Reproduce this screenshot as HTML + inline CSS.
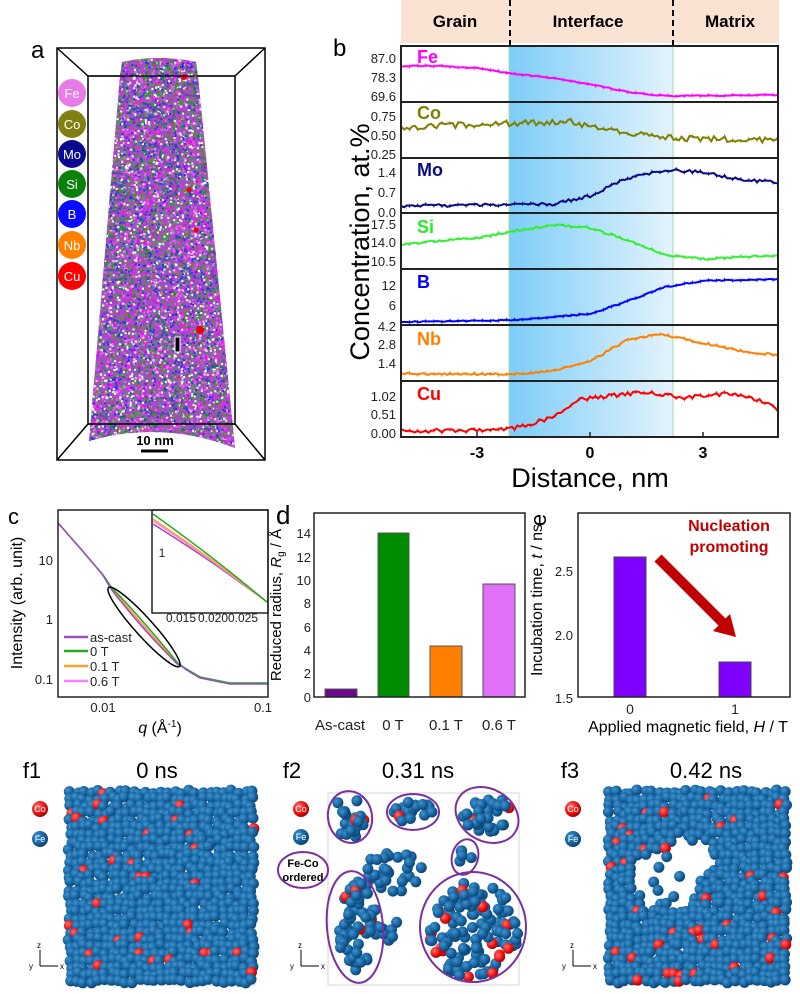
<!DOCTYPE html>
<html><head><meta charset="utf-8"><style>
html,body{margin:0;padding:0;background:#fff;}
svg{display:block;font-family:"Liberation Sans",Arial,sans-serif;}
</style></head><body>
<svg id="s" width="800" height="994" viewBox="0 0 800 994" xmlns="http://www.w3.org/2000/svg">
<defs>
<linearGradient id="ifg" x1="0" x2="1" y1="0" y2="0">
<stop offset="0" stop-color="#7dcdf7"/><stop offset="1" stop-color="#e3f3fd"/></linearGradient>
<radialGradient id="gb" cx="0.35" cy="0.35" r="0.7"><stop offset="0" stop-color="#3f94cf"/><stop offset="0.6" stop-color="#16629e"/><stop offset="1" stop-color="#0b406c"/></radialGradient>
<radialGradient id="gr" cx="0.35" cy="0.35" r="0.7"><stop offset="0" stop-color="#ff7070"/><stop offset="0.6" stop-color="#ee1111"/><stop offset="1" stop-color="#a00000"/></radialGradient>
<clipPath id="spec"><path d="M122,62 Q159,54 196,62 L198,76 L235,448 Q162,420 89,441 L120,76 Z"/></clipPath>
</defs>

<!-- Panel a -->
<text x="31" y="58" font-size="24">a</text>
<g fill="none" stroke="#000" stroke-width="1.5">
<rect x="57" y="48" width="208" height="412"/>
<rect x="88" y="76" width="147" height="348"/>
<line x1="57" y1="48" x2="88" y2="76"/><line x1="265" y1="48" x2="235" y2="76"/>
<line x1="57" y1="460" x2="88" y2="424"/><line x1="265" y1="460" x2="235" y2="424"/>
</g>
<path d="M122,62 Q159,54 196,62 L198,76 L235,448 Q162,420 89,441 L120,76 Z" fill="#a050c0"/>
<g id="adots" clip-path="url(#spec)"></g>
<line x1="88" y1="424" x2="235" y2="424" stroke="#000" stroke-width="1.5"/>
<line x1="88" y1="76" x2="235" y2="76" stroke="#000" stroke-width="1.2"/>
<rect x="175" y="337" width="5" height="15" fill="#000" stroke="#fff" stroke-width="1"/>
<text x="155" y="445" font-size="13" font-weight="bold" text-anchor="middle">10 nm</text>
<line x1="141" y1="451" x2="168" y2="451" stroke="#000" stroke-width="3"/>
<g font-size="13" fill="#fff" text-anchor="middle">
<circle cx="72" cy="93" r="14" fill="#e77be8"/><text x="72" y="98">Fe</text>
<circle cx="72" cy="124" r="14" fill="#808012"/><text x="72" y="129">Co</text>
<circle cx="72" cy="154" r="14" fill="#0a0a90"/><text x="72" y="159">Mo</text>
<circle cx="72" cy="184" r="14" fill="#0a820a"/><text x="72" y="189">Si</text>
<circle cx="72" cy="214" r="14" fill="#0a0aff"/><text x="72" y="219">B</text>
<circle cx="72" cy="245" r="14" fill="#ff8000"/><text x="72" y="250">Nb</text>
<circle cx="72" cy="276" r="14" fill="#ff0000"/><text x="72" y="281">Cu</text>
</g>

<!-- Panel b -->
<text x="333" y="56" font-size="24">b</text>
<rect x="401" y="0" width="378" height="43" fill="#fbe3d4"/>
<line x1="510" y1="0" x2="510" y2="46" stroke="#000" stroke-width="2" stroke-dasharray="6,4"/>
<line x1="673" y1="0" x2="673" y2="46" stroke="#000" stroke-width="2" stroke-dasharray="6,4"/>
<g font-size="17" font-weight="bold" text-anchor="middle">
<text x="455" y="27">Grain</text><text x="588" y="27">Interface</text><text x="730" y="27">Matrix</text></g>
<rect x="509" y="46" width="164" height="391" fill="url(#ifg)"/>
<line x1="509" y1="46" x2="509" y2="437" stroke="#a8d8a0" stroke-width="1"/>
<line x1="673" y1="46" x2="673" y2="437" stroke="#a8d8a0" stroke-width="1"/>
<g id="bcurves"></g>
<g stroke="#222" stroke-width="2" fill="none">
<rect x="401" y="46" width="377" height="391"/>
<line x1="401" y1="102" x2="778" y2="102"/><line x1="401" y1="158" x2="778" y2="158"/>
<line x1="401" y1="213" x2="778" y2="213"/><line x1="401" y1="269" x2="778" y2="269"/>
<line x1="401" y1="325" x2="778" y2="325"/><line x1="401" y1="381" x2="778" y2="381"/>
</g>
<g stroke="#222" stroke-width="1.5">
<line x1="477" y1="437" x2="477" y2="432"/><line x1="590" y1="437" x2="590" y2="432"/><line x1="703" y1="437" x2="703" y2="432"/>
</g>
<g font-size="13" text-anchor="end" fill="#222">
<text x="396" y="63">87.0</text><text x="396" y="82">78.3</text><text x="396" y="101">69.6</text>
<text x="396" y="121">0.75</text><text x="396" y="140">0.50</text><text x="396" y="159">0.25</text>
<text x="396" y="177">1.4</text><text x="396" y="197">0.7</text><text x="396" y="217">0.0</text>
<text x="396" y="229">17.5</text><text x="396" y="247">14.0</text><text x="396" y="266">10.5</text>
<text x="396" y="290">12</text><text x="396" y="310">6</text><text x="396" y="331">4.2</text>
<text x="396" y="349">2.8</text><text x="396" y="368">1.4</text>
<text x="396" y="401">1.02</text><text x="396" y="419">0.51</text><text x="396" y="438">0.00</text>
</g>
<g font-size="18" font-weight="bold">
<text x="417" y="63" fill="#ff00ff">Fe</text><text x="417" y="119" fill="#808000">Co</text>
<text x="417" y="176" fill="#0a0a80">Mo</text><text x="417" y="233" fill="#22ee22">Si</text>
<text x="417" y="288" fill="#0000ff">B</text><text x="417" y="345" fill="#ff8000">Nb</text>
<text x="417" y="400" fill="#ff0000">Cu</text></g>
<g font-size="16" font-weight="bold" text-anchor="middle">
<text x="477" y="458">-3</text><text x="590" y="458">0</text><text x="703" y="458">3</text></g>
<text x="590" y="487" font-size="27" text-anchor="middle">Distance, nm</text>
<text transform="translate(369,242) rotate(-90)" font-size="27" text-anchor="middle">Concentration, at.%</text>

<!-- Panel c -->
<text x="8" y="524" font-size="22">c</text>
<g id="ccurves"></g>
<rect x="58" y="510" width="210" height="187" fill="none" stroke="#222" stroke-width="1.5"/>
<rect x="152" y="510" width="116" height="103" fill="none" stroke="#222" stroke-width="1.5"/>
<ellipse cx="144" cy="627" rx="53" ry="9" transform="rotate(48 144 627)" fill="none" stroke="#000" stroke-width="1.5"/>
<g font-size="13" text-anchor="end" fill="#222"><text x="53" y="565">10</text><text x="53" y="624">1</text><text x="53" y="684">0.1</text></g>
<g font-size="12" text-anchor="middle" fill="#222"><text x="162" y="557">1</text><text x="181" y="622">0.015</text><text x="213" y="622">0.020</text><text x="243" y="622">0.025</text></g>
<g font-size="13" text-anchor="middle" fill="#222"><text x="103" y="712">0.01</text><text x="263" y="712">0.1</text></g>
<text x="160" y="733" font-size="16" text-anchor="middle"><tspan font-style="italic">q</tspan> (Å<tspan font-size="10" dy="-6">-1</tspan><tspan dy="6">)</tspan></text>
<text transform="translate(22,603) rotate(-90)" font-size="16" text-anchor="middle">Intensity (arb. unit)</text>
<g stroke-width="2.5"><line x1="64" y1="637" x2="88" y2="637" stroke="#9a4fc0"/><line x1="64" y1="651" x2="88" y2="651" stroke="#22aa22"/><line x1="64" y1="666" x2="88" y2="666" stroke="#ffa030"/><line x1="64" y1="681" x2="88" y2="681" stroke="#ff80ff"/></g>
<g font-size="13" fill="#222"><text x="90" y="642">as-cast</text><text x="90" y="656">0 T</text><text x="90" y="671">0.1 T</text><text x="90" y="686">0.6 T</text></g>

<!-- Panel d -->
<text x="276" y="524" font-size="26">d</text>
<rect x="325" y="689" width="32" height="8" fill="#6a0a8a" stroke="#555"/>
<rect x="378" y="533" width="31" height="164" fill="#008c00" stroke="#555"/>
<rect x="430" y="646" width="32" height="51" fill="#ff8000" stroke="#555"/>
<rect x="483" y="584" width="32" height="113" fill="#e070f8" stroke="#555"/>
<rect x="314" y="513" width="211" height="184" fill="none" stroke="#222" stroke-width="1.5"/>
<g font-size="13" text-anchor="end" fill="#222"><text x="311" y="538">14</text><text x="311" y="562">12</text><text x="311" y="585">10</text><text x="311" y="608">8</text><text x="311" y="632">6</text><text x="311" y="655">4</text><text x="311" y="678">2</text><text x="311" y="702">0</text></g>
<g font-size="15" text-anchor="middle" fill="#222"><text x="340" y="730">As-cast</text><text x="393" y="730">0 T</text><text x="446" y="730">0.1 T</text><text x="499" y="730">0.6 T</text></g>
<text transform="translate(281,605) rotate(-90)" font-size="15" text-anchor="middle">Reduced radius, <tspan font-style="italic">R</tspan><tspan font-size="10" dy="3">g</tspan><tspan dy="-3"> / Å</tspan></text>

<!-- Panel e -->
<rect x="614" y="557" width="32" height="140" fill="#7f00ff" stroke="#444"/>
<rect x="719" y="662" width="32" height="35" fill="#7f00ff" stroke="#444"/>
<rect x="578" y="513" width="212" height="184" fill="none" stroke="#222" stroke-width="1.5"/>
<g font-size="13" text-anchor="end" fill="#222"><text x="573" y="576">2.5</text><text x="573" y="640">2.0</text><text x="573" y="703">1.5</text></g>
<g font-size="14" text-anchor="middle" fill="#222"><text x="630" y="714">0</text><text x="735" y="714">1</text></g>
<text x="688" y="732" font-size="16" text-anchor="middle">Applied magnetic field, <tspan font-style="italic">H</tspan> / T</text>
<text transform="translate(542,600) rotate(-90)" font-size="16" text-anchor="middle">Incubation time, <tspan font-style="italic">t</tspan> / ns</text>
<text transform="translate(546,520) rotate(-90)" font-size="22" text-anchor="middle">e</text>
<g font-size="16" font-weight="bold" fill="#c00000" text-anchor="middle"><text x="729" y="531">Nucleation</text><text x="729" y="552">promoting</text></g>
<line x1="658" y1="558" x2="724" y2="624" stroke="#c00000" stroke-width="10"/>
<polygon points="736,637 713,631 730,614" fill="#c00000"/>

<!-- Panel f -->
<g id="fatoms"></g>
<g font-size="22" text-anchor="middle"><text x="32" y="778">f1</text><text x="157" y="778">0 ns</text>
<text x="292" y="778">f2</text><text x="418" y="778">0.31 ns</text>
<text x="570" y="778">f3</text><text x="706" y="778">0.42 ns</text></g>
<g font-size="9" fill="#fff" text-anchor="middle">
<circle cx="40" cy="809" r="8" fill="url(#gr)"/><text x="40" y="812">Co</text>
<circle cx="40" cy="839" r="8" fill="url(#gb)"/><text x="40" y="842">Fe</text>
<circle cx="301" cy="809" r="8" fill="url(#gr)"/><text x="301" y="812">Co</text>
<circle cx="301" cy="837" r="8" fill="url(#gb)"/><text x="301" y="840">Fe</text>
<circle cx="573" cy="809" r="8" fill="url(#gr)"/><text x="573" y="812">Co</text>
<circle cx="573" cy="839" r="8" fill="url(#gb)"/><text x="573" y="842">Fe</text>
</g>
<g fill="none" stroke="#7b2fa0" stroke-width="2">
<ellipse cx="350" cy="817" rx="22" ry="26" transform="rotate(-10 350 817)"/>
<ellipse cx="413" cy="812" rx="26" ry="18"/>
<ellipse cx="487" cy="815" rx="33" ry="26" transform="rotate(30 487 815)"/>
<ellipse cx="465" cy="857" rx="13" ry="18" transform="rotate(15 465 857)"/>
<ellipse cx="355" cy="927" rx="28" ry="56" transform="rotate(-5 355 927)"/>
<ellipse cx="473" cy="927" rx="53" ry="55"/>
<ellipse cx="303" cy="870" rx="25" ry="18"/>
</g>
<g font-size="11" font-weight="bold" text-anchor="middle"><text x="303" y="867">Fe-Co</text><text x="303" y="881">ordered</text></g>
<g stroke="#000" stroke-width="1">
<line x1="40" y1="966" x2="40" y2="950"/><line x1="40" y1="966" x2="58" y2="966"/>
<line x1="301" y1="966" x2="301" y2="950"/><line x1="301" y1="966" x2="319" y2="966"/>
<line x1="573" y1="966" x2="573" y2="950"/><line x1="573" y1="966" x2="591" y2="966"/>
</g>
<g font-size="8"><text x="37" y="948">z</text><text x="29" y="969">y</text><text x="60" y="969">x</text>
<text x="298" y="948">z</text><text x="290" y="969">y</text><text x="321" y="969">x</text>
<text x="570" y="948">z</text><text x="562" y="969">y</text><text x="593" y="969">x</text></g>
</svg>
<script>
(function(){
var seed=12345;function R(){seed=(seed*1103515245+12345)%2147483648;return seed/2147483648;}
var ad=document.getElementById('adots');
var cols=['#ff22ff','#ff55ff','#ff00ff','#22aa22','#119911','#2233ee','#ffffff','#ffffff','#808020','#e070f0','#1848c8','#40b040'];
var h='';
for(var i=0;i<11000;i++){var x=88+R()*148,y=55+R()*395;var c=cols[Math.floor(R()*cols.length)];h+='<rect x="'+x.toFixed(1)+'" y="'+y.toFixed(1)+'" width="2" height="2" fill="'+c+'"/>';}
for(var j=0;j<22;j++){var cx=95+R()*135,cy=80+R()*350;h+='<ellipse cx="'+cx.toFixed(0)+'" cy="'+cy.toFixed(0)+'" rx="'+(6+R()*10).toFixed(0)+'" ry="'+(4+R()*8).toFixed(0)+'" fill="none" stroke="#3050a0" stroke-opacity="0.6" stroke-width="2"/>';}
h+='<circle cx="200" cy="330" r="4" fill="#ee0000"/><circle cx="184" cy="77" r="3" fill="#ee0000"/><circle cx="189" cy="190" r="2.5" fill="#ee0000"/><circle cx="196" cy="230" r="2.5" fill="#ee0000"/>';
ad.innerHTML=h;
function interp(pts,x){for(var i=0;i<pts.length-1;i++){if(x<=pts[i+1][0]){var t=(x-pts[i][0])/(pts[i+1][0]-pts[i][0]);return pts[i][1]+t*(pts[i+1][1]-pts[i][1]);}}return pts[pts.length-1][1];}
var S=[
['#ff00ff',0.5,[[-5,66],[-4,66],[-3,68],[-2.2,73],[-1,78],[0,84],[1,92],[2,96],[5,95]]],
['#808000',3,[[-5,127],[-2,123],[-0.5,122],[0,126],[1,133],[2,138],[5,140]]],
['#0a0a80',1.5,[[-5,206],[-1,204],[0,196],[1,178],[2,170],[3,172],[4,180],[5,182]]],
['#33ee33',1,[[-5,244],[-3,238],[-2,231],[-1,225],[0,228],[1,240],[2,255],[3,259],[5,255]]],
['#0000ff',0.6,[[-5,322],[-2,320],[0,314],[1,301],[2,287],[3,281],[5,279]]],
['#ff8000',1,[[-5,374],[-2,374],[-1,371],[0,361],[1,340],[1.8,334],[3,343],[4,351],[5,355]]],
['#ff0000',2,[[-5,431],[-2.2,430],[-1,418],[-0.3,399],[1,394],[1.6,392],[2.5,398],[3.8,393],[4.5,400],[5,410]]]];
var bh='';
S.forEach(function(s){var p=[];for(var k=0;k<=140;k++){var nm=-5+10*k/140;var y=interp(s[2],nm)+(R()-0.5)*2*s[1];var x=590+37.7*nm;if(x>778)x=778;if(x<401)x=401;p.push(x.toFixed(1)+','+y.toFixed(1));if(k%3==0)bh+='<line x1="'+x.toFixed(1)+'" y1="'+(y-2).toFixed(1)+'" x2="'+x.toFixed(1)+'" y2="'+(y+2).toFixed(1)+'" stroke="'+s[0]+'" stroke-width="0.8"/>';}
bh+='<polyline points="'+p.join(' ')+'" fill="none" stroke="'+s[0]+'" stroke-width="2"/>';});
document.getElementById('bcurves').innerHTML=bh;
var main=[[58,523],[80,548],[103,575],[111,588],[145,627],[178,664],[200,677],[230,683],[268,683]];
var cc='';var cs=[['#ff80ff',1,0],['#ffa030',0,1],['#22aa22',-3,0],['#9a4fc0',3,2]];
cs.forEach(function(c){var p=[];for(var x=58;x<=268;x+=2){var y=interp(main,x);var o=0;if(x>100&&x<185){o=c[1]*Math.sin((x-100)/85*Math.PI);}if(x>185)o=c[2]*0.5;p.push(x+','+(y+o).toFixed(1));}cc+='<polyline points="'+p.join(' ')+'" fill="none" stroke="'+c[0]+'" stroke-width="1.5"/>';});
var ins=[['#9a4fc0',10],['#ff80ff',7],['#ffa030',5],['#22aa22',0]];
ins.forEach(function(c){var p=[];for(var x=153;x<=267;x+=2){var t=(x-153)/114;var y=514+c[1]*(1-t)+88*t-1.8*Math.sin(t*Math.PI);p.push(x+','+y.toFixed(1));}cc+='<polyline points="'+p.join(' ')+'" fill="none" stroke="'+c[0]+'" stroke-width="1.5"/>';});
document.getElementById('ccurves').innerHTML=cc;
var fh='';
function atom(x,y,red){fh+='<circle cx="'+x.toFixed(1)+'" cy="'+y.toFixed(1)+'" r="5.5" fill="url(#'+(red?'gr':'gb')+')"/>';}
function box(x0,y0,x1,y1){fh+='<rect x="'+x0+'" y="'+y0+'" width="'+(x1-x0)+'" height="'+(y1-y0)+'" fill="none" stroke="#ccc" stroke-width="0.8"/>';}
box(75,790,255,985);box(328,793,519,985);box(606,790,788,985);
function fill(x0,y0,x1,y1,keep,redp){for(var y=y0;y<=y1;y+=7){for(var x=x0;x<=x1;x+=7){var xx=x+(R()-0.5)*4,yy=y+(R()-0.5)*4;if(keep(xx,yy))atom(xx,yy,R()<redp);}}}
fill(70,792,252,982,function(){return true;},0.05);
fill(610,792,786,982,function(x,y){
 var inHeart=(Math.pow((x-665)/35,2)+Math.pow((y-880)/30,2)<1)||(Math.pow((x-690)/25,2)+Math.pow((y-858)/18,2)<1);
 if(inHeart)return R()<0.12;return true;},0.06);
function cluster(cx,cy,rx,ry,dens,redp){for(var k=0;k<dens;k++){var a=R()*6.283,r=Math.sqrt(R());atom(cx+Math.cos(a)*r*rx,cy+Math.sin(a)*r*ry,R()<redp);}}
cluster(350,817,17,21,22,0.1);cluster(413,812,20,13,22,0.1);cluster(487,815,27,18,35,0.12);cluster(465,857,8,12,5,0);
cluster(357,927,20,50,60,0.08);cluster(473,930,45,48,130,0.1);cluster(395,870,28,22,30,0);cluster(390,930,10,12,8,0);
document.getElementById('fatoms').innerHTML=fh;
})();
</script>
</body></html>
